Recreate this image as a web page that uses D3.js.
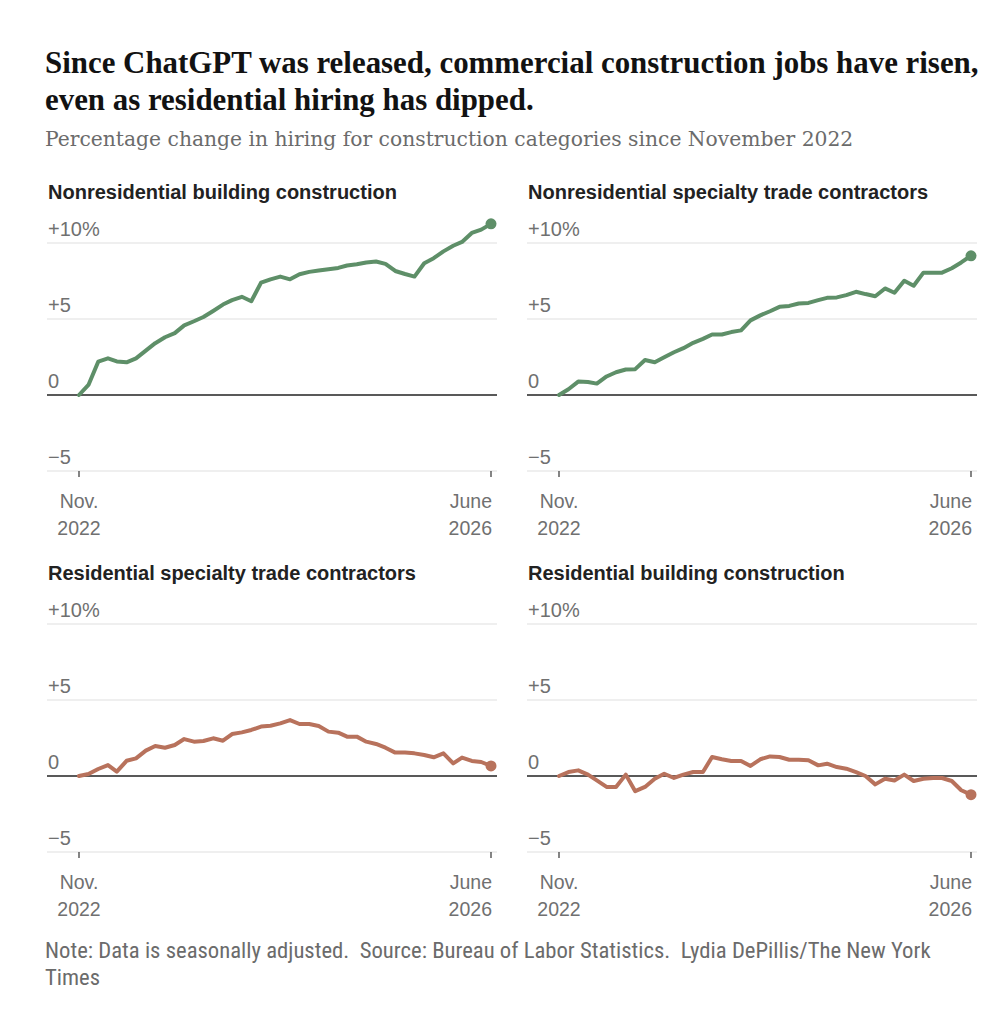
<!DOCTYPE html>
<html>
<head>
<meta charset="utf-8">
<script src="https://cdn.jsdelivr.net/npm/d3@7"></script>
<style>
  html, body { margin: 0; padding: 0; background: #fff; }
  svg { display: block; }
</style>
</head>
<body>
<svg id="chart" width="1000" height="1020"></svg>
<script>
// ---- Data (percent change since Nov. 2022, monthly Nov 2022 .. June 2026) ----
const panelTitles = [
  "Nonresidential building construction",
  "Nonresidential specialty trade contractors",
  "Residential specialty trade contractors",
  "Residential building construction"
];
const nonresBuilding = [0, 0.66, 2.19, 2.41, 2.21, 2.15, 2.41, 2.92, 3.41, 3.8, 4.07, 4.58, 4.85, 5.13, 5.53, 5.95, 6.24, 6.46, 6.17, 7.39, 7.61, 7.79, 7.61, 7.94, 8.1, 8.19, 8.27, 8.36, 8.52, 8.6, 8.72, 8.78, 8.63, 8.16, 7.96, 7.79, 8.67, 9.0, 9.45, 9.82, 10.07, 10.66, 10.88, 11.26];
const nonresSpecialty = [0, 0.38, 0.88, 0.86, 0.75, 1.22, 1.5, 1.68, 1.7, 2.3, 2.15, 2.48, 2.81, 3.08, 3.43, 3.69, 3.98, 3.98, 4.14, 4.25, 4.91, 5.24, 5.51, 5.8, 5.86, 6.02, 6.06, 6.24, 6.39, 6.42, 6.57, 6.79, 6.64, 6.5, 7.01, 6.73, 7.52, 7.19, 8.05, 8.05, 8.05, 8.34, 8.72, 9.16];
const resSpecialty = [0, 0.13, 0.46, 0.72, 0.29, 1.0, 1.16, 1.67, 1.97, 1.86, 2.04, 2.43, 2.26, 2.3, 2.48, 2.32, 2.76, 2.87, 3.03, 3.25, 3.31, 3.46, 3.68, 3.42, 3.42, 3.29, 2.92, 2.85, 2.59, 2.59, 2.26, 2.11, 1.86, 1.54, 1.54, 1.49, 1.38, 1.23, 1.49, 0.83, 1.21, 0.99, 0.92, 0.66];
const resBuilding = [0, 0.26, 0.37, 0.09, -0.29, -0.72, -0.72, 0.09, -1.0, -0.72, -0.18, 0.15, -0.13, 0.09, 0.26, 0.26, 1.25, 1.1, 0.99, 0.99, 0.66, 1.1, 1.29, 1.25, 1.07, 1.07, 1.03, 0.7, 0.81, 0.59, 0.48, 0.26, 0, -0.55, -0.18, -0.29, 0.09, -0.33, -0.18, -0.13, -0.13, -0.33, -0.94, -1.23];
const seriesList = [nonresBuilding, nonresSpecialty, resSpecialty, resBuilding];
const seriesColors = ["#5e8f68", "#5e8f68", "#b8725c", "#b8725c"];
const yTicks = [-5, 0, 5, 10];
const yTickLabels = ["\u22125", "0", "+5", "+10%"];
const startDate = new Date(2022, 10, 1);
const endDate = new Date(2026, 5, 1);
const xTickLabels = [["Nov.", "2022"], ["June", "2026"]];
const titleLines = [
  "Since ChatGPT was released, commercial construction jobs have risen,",
  "even as residential hiring has dipped."
];
const subtitle = "Percentage change in hiring for construction categories since November 2022";
const noteLines = [
  "Note: Data is seasonally adjusted.\u00a0 Source: Bureau of Labor Statistics.\u00a0 Lydia DePillis/The New York",
  "Times"
];

// ---- Drawing ----
const svg = d3.select("#chart");
const sans = "'Liberation Sans', Arial, sans-serif";
const serif = "'Liberation Serif', 'Times New Roman', serif";

svg.selectAll("text.title").data(titleLines).join("text")
  .attr("class", "title")
  .attr("x", 45).attr("y", (d, i) => 73 + i * 37)
  .attr("font-family", serif).attr("font-weight", "bold")
  .attr("font-size", 30.9).attr("fill", "#121212")
  .text(d => d);

svg.append("text")
  .attr("x", 45).attr("y", 146)
  .attr("font-family", "'DejaVu Serif', serif").attr("font-size", 20.3).attr("fill", "#6b6b6b")
  .text(subtitle);

const dates = nonresBuilding.map((_, i) => new Date(2022, 10 + i, 1));

const panels = [
  { x0: 47, top: 243 },
  { x0: 527, top: 243 },
  { x0: 47, top: 624 },
  { x0: 527, top: 624 }
];

panels.forEach((p, idx) => {
  const g = svg.append("g");
  const x = d3.scaleTime().domain([startDate, endDate]).range([p.x0 + 32, p.x0 + 444]);
  const y = d3.scaleLinear().domain([10, -5]).range([p.top, p.top + 228]);

  g.append("text")
    .attr("x", p.x0 + 1).attr("y", p.top - 44)
    .attr("font-family", sans).attr("font-weight", "bold")
    .attr("font-size", 20).attr("fill", "#222")
    .text(panelTitles[idx]);

  // gridlines
  g.selectAll("line.grid").data(yTicks).join("line")
    .attr("x1", p.x0).attr("x2", p.x0 + 450)
    .attr("y1", d => y(d)).attr("y2", d => y(d))
    .attr("stroke", d => d === 0 ? "#222" : "#e0e0e0")
    .attr("stroke-width", d => d === 0 ? 1.3 : 1.2);

  g.selectAll("text.ylab").data(yTicks).join("text")
    .attr("x", p.x0 + 1).attr("y", d => y(d) - 7)
    .attr("font-family", sans).attr("font-size", 20).attr("fill", "#707070")
    .text((d, i) => yTickLabels[i]);

  // x axis ticks
  const xt = [startDate, endDate];
  g.selectAll("line.xtick").data(xt).join("line")
    .attr("x1", d => x(d)).attr("x2", d => x(d))
    .attr("y1", y(-5)).attr("y2", y(-5) + 6)
    .attr("stroke", "#333").attr("stroke-width", 1.2);

  xt.forEach((d, i) => {
    const t = g.append("text")
      .attr("font-family", sans).attr("font-size", 19.5).attr("fill", "#707070")
      .attr("text-anchor", i === 0 ? "middle" : "end");
    const xx = i === 0 ? x(d) : x(d) + 1;
    xTickLabels[i].forEach((line, j) => {
      t.append("tspan").attr("x", xx).attr("y", y(-5) + 37 + j * 27).text(line);
    });
  });

  const line = d3.line().x((d, i) => x(dates[i])).y(d => y(d));
  const vals = seriesList[idx];
  g.append("path")
    .datum(vals)
    .attr("d", line)
    .attr("fill", "none")
    .attr("stroke", seriesColors[idx])
    .attr("stroke-width", 4)
    .attr("stroke-linejoin", "round")
    .attr("stroke-linecap", "round");

  g.append("circle")
    .attr("cx", x(dates[vals.length - 1]))
    .attr("cy", y(vals[vals.length - 1]))
    .attr("r", 5.5)
    .attr("fill", seriesColors[idx]);
});

svg.selectAll("text.note").data(noteLines).join("text")
  .attr("class", "note")
  .attr("x", 45).attr("y", (d, i) => 958 + i * 27)
  .attr("font-family", "'Liberation Sans Narrow', 'Roboto Condensed', 'DejaVu Sans Condensed', sans-serif")
  .attr("font-size", 22.7).attr("fill", "#6b6b6b")
  .text(d => d);
</script>
</body>
</html>
